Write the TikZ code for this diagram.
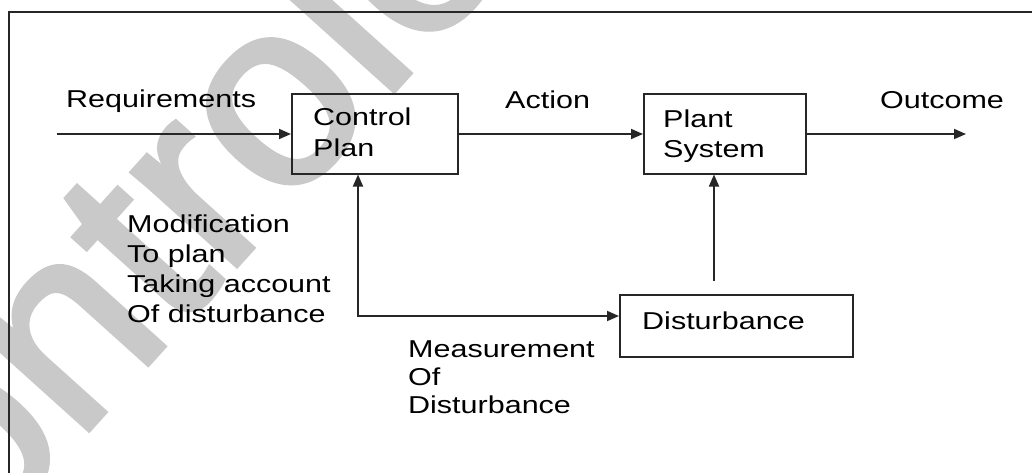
\documentclass[tikz,border=0pt]{standalone}
\usepackage{fontspec}
\setmainfont{Liberation Sans}[FakeStretch=1.25]
\newfontfamily\wmfont{Liberation Sans}[FakeBold=2]
\usetikzlibrary{arrows.meta}
\begin{document}
\begin{tikzpicture}[x=1pt,y=-1pt,
  lbl/.style={inner sep=0pt, anchor=base west, align=left, text=black,
    font=\fontsize{24.4}{30}\selectfont},
  box/.style={draw=black!85, line width=1.5pt, anchor=north west, inner sep=0pt},
  arr/.style={draw=black!85, line width=1.8pt, -{Triangle[length=12pt,width=10pt]}},
  arrboth/.style={draw=black!85, line width=1.8pt, {Triangle[length=12pt,width=10pt]}-{Triangle[length=12pt,width=10pt]}},
  frame/.style={draw=black!85, line width=2pt},
  wmark/.style={inner sep=0pt, anchor=base west, rotate=48, text=black!21,
    font=\wmfont\fontsize{265}{265}\selectfont}]
\useasboundingbox (0,0) rectangle (1032,472);
\clip (0,0) rectangle (1032,472);
\fill[white] (0,0) rectangle (1032,472);
% watermark
\node[wmark] (wm) at (-150,695) {Controle};
% frame
\draw[frame] (9,12) rectangle (1050,490);
% boxes
\node[box, minimum width=166pt, minimum height=80pt] (cp) at (291,93) {};
\node[box, minimum width=162pt, minimum height=80pt] (ps) at (643,93) {};
\node[box, minimum width=233pt, minimum height=62pt] (db) at (619,294) {};
% box texts (base = last line's baseline)
\node[lbl, font=\fontsize{24.4}{31}\selectfont] (cpt) at (313,156) {Control\\Plan};
\node[lbl] (pst) at (663,157) {Plant\\System};
\node[lbl] (dbt) at (642,329) {Disturbance};
% labels
\node[lbl] (req) at (66,107) {Requirements};
\node[lbl] (act) at (505,108) {Action};
\node[lbl] (out) at (880,108) {Outcome};
\node[lbl] (mod) at (127,322) {Modification\\To plan\\Taking account\\Of disturbance};
\node[lbl, font=\fontsize{24.4}{28}\selectfont] (mea) at (408,413) {Measurement\\Of\\Disturbance};
% connectors
\coordinate (rin) at (57,134);
\coordinate (oend) at (966,134);
\coordinate (fb) at (358,316);
\coordinate (dtop) at (714,281);
\draw[arr] (rin) -- (rin -| cp.west);
\draw[arr] (cp.east |- rin) -- (ps.west |- rin);
\draw[arr] (ps.east |- rin) -- (oend);
\draw[arrboth] (fb |- cp.south) -- (fb) -- (fb -| db.west);
\draw[arr] (dtop) -- (dtop |- ps.south);
\end{tikzpicture}
\end{document}
